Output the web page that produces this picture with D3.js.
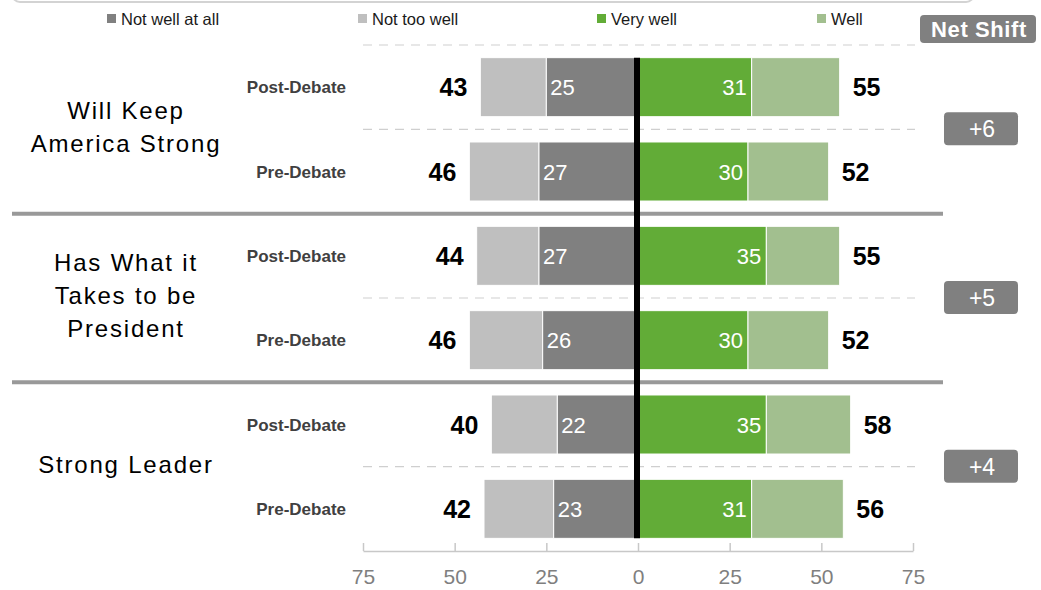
<!DOCTYPE html>
<html>
<head>
<meta charset="utf-8">
<script src="https://cdn.jsdelivr.net/npm/d3@7"></script>
<style>
  html, body { margin: 0; padding: 0; background: #fff; }
  svg { display: block; font-family: "Liberation Sans", Arial, sans-serif; }
</style>
</head>
<body>
<svg id="chart" width="1041" height="590"></svg>
<script>
// Attribute groups, each measured before and after the debate
const groups = [
  ["Will Keep", "America Strong"],
  ["Has What it", "Takes to be", "President"],
  ["Strong Leader"]
];
const rowLabels = ["Post-Debate", "Pre-Debate"];

// Values in row order: group 1 post, group 1 pre, group 2 post, ...
const notWellAtAll = [25, 27, 27, 26, 22, 23];
const negativeTotal = [43, 46, 44, 46, 40, 42];   // Not well at all + Not too well
const veryWell = [31, 30, 35, 30, 35, 31];
const positiveTotal = [55, 52, 55, 52, 58, 56];   // Very well + Well

const legendLabels = ["Not well at all", "Not too well", "Very well", "Well"];
const tickValues = [-75, -50, -25, 0, 25, 50, 75];

const colors = {
  notWellAtAll: "#808080",
  notTooWell: "#bfbfbf",
  veryWell: "#62ac37",
  well: "#a2bf8f"
};

const svg = d3.select("#chart");

const rowKeys = d3.range(notWellAtAll.length);
const x = d3.scaleLinear().domain([-75, 75]).range([363, 913]);
const y = d3.scaleBand().domain(rowKeys).range([45, 551])
  .paddingInner(0.3).paddingOuter(0.15);
const bw = y.bandwidth();
const gap = y.step() - bw;

// Frame edge at the very top
svg.append("rect")
  .attr("x", 12).attr("y", -40).attr("width", 962).attr("height", 42)
  .attr("rx", 8).attr("fill", "none")
  .attr("stroke", "#d3d3d3").attr("stroke-width", 2);

// Legend
const legendX = [107, 358, 597, 817];
const legendColors = [colors.notWellAtAll, colors.notTooWell, colors.veryWell, colors.well];
const legend = svg.append("g");
legendLabels.forEach((t, i) => {
  legend.append("rect")
    .attr("x", legendX[i]).attr("y", 14).attr("width", 9).attr("height", 9)
    .attr("fill", legendColors[i]);
  legend.append("text")
    .attr("x", legendX[i] + 14).attr("y", 25)
    .attr("font-size", 16.5).attr("fill", "#1a1a1a")
    .text(t);
});

// Net Shift header
svg.append("rect")
  .attr("x", 920).attr("y", 15).attr("width", 116).attr("height", 28)
  .attr("rx", 4).attr("fill", "#808080");
svg.append("text")
  .attr("x", 979).attr("y", 37).attr("text-anchor", "middle")
  .attr("font-size", 22).attr("font-weight", "bold").attr("fill", "#fff")
  .attr("letter-spacing", 0.6)
  .text("Net Shift");

// Dashed guide lines: top edge and between each post/pre pair
const dashY = [y.range()[0]];
groups.forEach((g, gi) => dashY.push(y(gi * 2) + bw + gap / 2));
svg.append("g").selectAll("line").data(dashY).join("line")
  .attr("x1", x(-75)).attr("x2", x(75) + 2)
  .attr("y1", d => d).attr("y2", d => d)
  .attr("stroke", "#cfcfcf").attr("stroke-width", 1.2)
  .attr("stroke-dasharray", "9,7");

// Solid separators between groups
const sepY = d3.range(1, groups.length).map(gi => y(gi * 2) - gap / 2);
svg.append("g").selectAll("line").data(sepY).join("line")
  .attr("x1", 12).attr("x2", 943)
  .attr("y1", d => d).attr("y2", d => d)
  .attr("stroke", "#999").attr("stroke-width", 4);

// Bars
const segs = [];
rowKeys.forEach(i => {
  segs.push({ i, x0: -negativeTotal[i], x1: -notWellAtAll[i], c: colors.notTooWell });
  segs.push({ i, x0: -notWellAtAll[i], x1: 0, c: colors.notWellAtAll });
  segs.push({ i, x0: 0, x1: veryWell[i], c: colors.veryWell });
  segs.push({ i, x0: veryWell[i], x1: positiveTotal[i], c: colors.well });
});
svg.append("g").selectAll("rect").data(segs).join("rect")
  .attr("x", d => x(d.x0)).attr("width", d => x(d.x1) - x(d.x0))
  .attr("y", d => y(d.i)).attr("height", bw)
  .attr("fill", d => d.c)
  .attr("stroke", "#fff").attr("stroke-width", 1);

// Segment values inside bars
const inner = svg.append("g").attr("font-size", 22).attr("fill", "#fff");
rowKeys.forEach(i => {
  const cy = y(i) + bw / 2 + 8;
  inner.append("text")
    .attr("x", x(-notWellAtAll[i]) + 4).attr("y", cy)
    .text(notWellAtAll[i]);
  inner.append("text")
    .attr("x", x(veryWell[i]) - 5).attr("y", cy)
    .attr("text-anchor", "end")
    .text(veryWell[i]);
});

// Totals at each bar end
const totals = svg.append("g").attr("font-size", 25).attr("font-weight", "bold").attr("fill", "#000");
rowKeys.forEach(i => {
  const cy = y(i) + bw / 2 + 9;
  totals.append("text")
    .attr("x", x(-negativeTotal[i]) - 13).attr("y", cy)
    .attr("text-anchor", "end")
    .text(negativeTotal[i]);
  totals.append("text")
    .attr("x", x(positiveTotal[i]) + 13).attr("y", cy)
    .text(positiveTotal[i]);
});

// Row labels
svg.append("g").selectAll("text").data(rowKeys).join("text")
  .attr("x", 346).attr("y", i => y(i) + bw / 2 + 6)
  .attr("text-anchor", "end")
  .attr("font-size", 17).attr("font-weight", "bold").attr("fill", "#404040")
  .text(i => rowLabels[i % 2]);

// Group labels, centred on the dashed line of each pair
const lineH = 33;
groups.forEach((lines, gi) => {
  const cy = y(gi * 2) + bw + gap / 2;
  const t = svg.append("text")
    .attr("x", 126).attr("text-anchor", "middle")
    .attr("font-size", 24).attr("letter-spacing", 1.8).attr("fill", "#000");
  lines.forEach((ln, li) => {
    t.append("tspan")
      .attr("x", 126)
      .attr("y", cy + (li - (lines.length - 1) / 2) * lineH + 6)
      .text(ln);
  });
});

// Net shift badges: change in positive total minus change in negative total
groups.forEach((g, gi) => {
  const post = gi * 2, pre = gi * 2 + 1;
  const shift = (positiveTotal[post] - positiveTotal[pre]) - (negativeTotal[post] - negativeTotal[pre]);
  const cy = y(post) + bw + gap / 2;
  svg.append("rect")
    .attr("x", 944).attr("y", cy - 17).attr("width", 74).attr("height", 33)
    .attr("rx", 4).attr("fill", "#808080");
  svg.append("text")
    .attr("x", 982).attr("y", cy + 8).attr("text-anchor", "middle")
    .attr("font-size", 23).attr("fill", "#fff")
    .text((shift >= 0 ? "+" : "") + shift);
});

// Zero line
const first = y(0), last = y(rowKeys.length - 1) + bw;
svg.append("line")
  .attr("x1", x(0) - 1).attr("x2", x(0) - 1)
  .attr("y1", first).attr("y2", last)
  .attr("stroke", "#000").attr("stroke-width", 6);

// Axis
const axis = d3.axisBottom(x)
  .tickValues(tickValues)
  .tickFormat(d => Math.abs(d))
  .tickSizeInner(-8).tickSizeOuter(0).tickPadding(18);
const ax = svg.append("g")
  .attr("transform", `translate(0,551)`)
  .call(axis);
ax.select(".domain").attr("stroke", "#c8c8c8").attr("stroke-width", 1.5);
ax.selectAll(".tick line").attr("stroke", "#c8c8c8").attr("stroke-width", 1.5);
ax.selectAll(".tick text")
  .attr("font-size", 21).attr("fill", "#7f7f7f")
  .attr("font-family", "'Liberation Sans', Arial, sans-serif");
</script>
</body>
</html>
